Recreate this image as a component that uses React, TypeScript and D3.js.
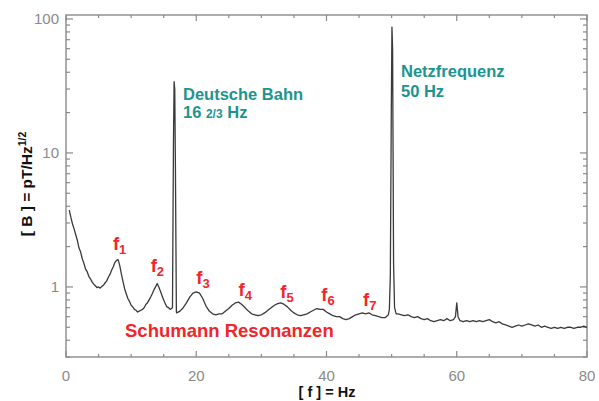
import React, { useEffect, useRef } from 'react';
import * as d3 from 'd3';

// Magnetic field spectrum [f (Hz), B (pT/Hz^1/2)]
const lowBand: [number, number][] = [
  [0.5, 3.75], [0.75, 3.3], [1.0, 2.95], [1.25, 2.7], [1.5, 2.45], [1.75, 2.22], [2.0, 1.95],
  [2.25, 1.82], [2.5, 1.62], [2.75, 1.5], [3.0, 1.36], [3.25, 1.3], [3.5, 1.2], [3.75, 1.15],
  [4.0, 1.09], [4.25, 1.05], [4.5, 1.02], [4.75, 0.99], [5.0, 1.0], [5.25, 0.98], [5.5, 1.01],
  [5.75, 1.03], [6.0, 1.07], [6.25, 1.11], [6.5, 1.18], [6.75, 1.24], [7.0, 1.33], [7.25, 1.41],
  [7.5, 1.52], [7.75, 1.58], [8.0, 1.6], [8.25, 1.45], [8.5, 1.25], [8.75, 1.1], [9.0, 0.97],
  [9.25, 0.89], [9.5, 0.82], [9.75, 0.78], [10.0, 0.73], [10.25, 0.71], [10.5, 0.68], [10.75, 0.67],
  [11.0, 0.65], [11.25, 0.66], [11.5, 0.67], [11.75, 0.68], [12.0, 0.7], [12.25, 0.74], [12.5, 0.76],
  [12.75, 0.8], [13.0, 0.84], [13.25, 0.89], [13.5, 0.95], [13.75, 1.0], [14.0, 1.06], [14.25, 1.0],
  [14.5, 0.93], [14.75, 0.86], [15.0, 0.8], [15.25, 0.75], [15.5, 0.71], [15.75, 0.7], [16.0, 0.68],
  [16.35, 0.7],
];
const bahnSpike: [number, number][] = [
  [16.5, 12], [16.6, 34], [16.7, 30], [16.8, 8], [16.95, 0.65],
];
const midBand: [number, number][] = [
  [17.0, 0.64], [17.5, 0.66], [18.0, 0.7], [18.5, 0.76], [19.0, 0.84], [19.5, 0.9], [20.0, 0.92],
  [20.5, 0.9], [21.0, 0.82], [21.5, 0.72], [22.0, 0.66], [22.5, 0.63], [23.0, 0.62], [23.5, 0.63],
  [24.0, 0.63], [24.5, 0.66], [25.0, 0.69], [25.5, 0.73], [26.0, 0.76], [26.5, 0.77], [27.0, 0.74],
  [27.5, 0.7], [28.0, 0.66], [28.5, 0.63], [29.0, 0.62], [29.5, 0.61], [30.0, 0.62], [30.5, 0.64],
  [31.0, 0.67], [31.5, 0.7], [32.0, 0.73], [32.5, 0.75], [33.0, 0.76], [33.5, 0.74], [34.0, 0.71],
  [34.5, 0.67], [35.0, 0.64], [35.5, 0.62], [36.0, 0.61], [36.5, 0.62], [37.0, 0.63], [37.5, 0.65],
  [38.0, 0.67], [38.5, 0.69], [39.0, 0.68], [39.5, 0.68], [40.0, 0.65], [40.5, 0.63], [41.0, 0.61],
  [41.5, 0.6], [42.0, 0.6], [42.5, 0.58], [43.0, 0.57], [43.5, 0.58], [44.0, 0.6], [44.5, 0.62],
  [45.0, 0.63], [45.5, 0.64], [46.0, 0.63], [46.5, 0.64], [47.0, 0.62], [47.5, 0.61], [48.0, 0.6],
  [48.5, 0.59], [49.0, 0.59], [49.5, 0.62],
];
const netzSpike: [number, number][] = [
  [49.65, 0.68], [49.8, 1.2], [49.95, 20], [50.05, 87], [50.15, 60], [50.3, 1.5], [50.45, 0.7],
];
const highBand: [number, number][] = [
  [50.7, 0.63], [51.0, 0.63], [51.5, 0.62], [52.0, 0.61], [52.5, 0.62], [53.0, 0.6], [53.5, 0.59],
  [54.0, 0.6], [54.5, 0.58], [55.0, 0.57], [55.5, 0.58], [56.0, 0.56], [56.5, 0.55], [57.0, 0.56],
  [57.5, 0.57], [58.0, 0.56], [58.5, 0.58], [59.0, 0.56], [59.5, 0.57], [59.8, 0.6], [60.0, 0.76],
  [60.2, 0.6], [60.5, 0.56], [61.0, 0.55], [61.5, 0.56], [62.0, 0.55], [62.5, 0.56], [63.0, 0.55],
  [63.5, 0.56], [64.0, 0.55], [64.5, 0.56], [65.0, 0.57], [65.5, 0.55], [66.0, 0.54], [66.5, 0.55],
  [67.0, 0.53], [67.5, 0.52], [68.0, 0.51], [68.5, 0.5], [69.0, 0.51], [69.5, 0.52], [70.0, 0.51],
  [70.5, 0.52], [71.0, 0.53], [71.5, 0.52], [72.0, 0.51], [72.5, 0.52], [73.0, 0.5], [73.5, 0.51],
  [74.0, 0.5], [74.5, 0.49], [75.0, 0.5], [75.5, 0.49], [76.0, 0.5], [76.5, 0.49], [77.0, 0.5],
  [77.5, 0.5], [78.0, 0.49], [78.5, 0.5], [79.0, 0.5], [79.5, 0.51], [80.0, 0.5],
];

const xTicks = [0, 20, 40, 60, 80];
const xMinorTicks = [5, 10, 15, 25, 30, 35, 45, 50, 55, 65, 70, 75];
const yTicks = [1, 10, 100];
const yMinorTicks = [0.3, 0.4, 0.5, 0.6, 0.7, 0.8, 0.9, 2, 3, 4, 5, 6, 7, 8, 9, 20, 30, 40, 50, 60, 70, 80, 90];

// Schumann resonance labels: [index, f position, baseline value]
const resonanceLabels: [string, number, number][] = [
  ['1', 7.2, 1.9], ['2', 13.0, 1.3], ['3', 20.0, 1.05], ['4', 26.5, 0.86],
  ['5', 32.9, 0.82], ['6', 39.2, 0.78], ['7', 45.6, 0.72],
];

const W = 599, H = 401;
const LEFT = 66, RIGHT = 587, TOP = 15, BOTTOM = 357;
const AXIS_COLOR = '#8a8a8a';
const TEAL = '#1c9490';
const RED = '#f0262a';
const FONT = '"Liberation Sans", Arial, Helvetica, sans-serif';

export default function App() {
  const ref = useRef<SVGSVGElement>(null);

  useEffect(() => {
    const svg = d3.select(ref.current);
    svg.selectAll('*').remove();

    const x = d3.scaleLinear().domain([0, 80]).range([LEFT, RIGHT]);
    const y = d3.scaleLog().domain([0.3, 107]).range([BOTTOM, TOP]);

    const g = svg.append('g');

    // frame
    g.append('rect')
      .attr('x', LEFT).attr('y', TOP)
      .attr('width', RIGHT - LEFT).attr('height', BOTTOM - TOP)
      .attr('fill', 'none').attr('stroke', AXIS_COLOR).attr('stroke-width', 1.4);

    // inward ticks on all four sides
    const tick = (x1: number, y1: number, x2: number, y2: number) =>
      g.append('line').attr('x1', x1).attr('y1', y1).attr('x2', x2).attr('y2', y2)
        .attr('stroke', AXIS_COLOR).attr('stroke-width', 1.2);

    xTicks.forEach((v) => { tick(x(v), BOTTOM, x(v), BOTTOM - 6); tick(x(v), TOP, x(v), TOP + 6); });
    xMinorTicks.forEach((v) => { tick(x(v), BOTTOM, x(v), BOTTOM - 3); tick(x(v), TOP, x(v), TOP + 3); });
    yTicks.forEach((v) => { tick(LEFT, y(v), LEFT + 7, y(v)); tick(RIGHT, y(v), RIGHT - 7, y(v)); });
    yMinorTicks.forEach((v) => { tick(LEFT, y(v), LEFT + 4, y(v)); tick(RIGHT, y(v), RIGHT - 4, y(v)); });

    // tick labels
    g.selectAll('text.xl').data(xTicks).enter().append('text')
      .attr('x', (d) => x(d)).attr('y', 381)
      .attr('text-anchor', 'middle')
      .attr('font-family', FONT).attr('font-size', 15).attr('fill', AXIS_COLOR)
      .text((d) => d);
    g.selectAll('text.yl').data(yTicks).enter().append('text')
      .attr('x', 59).attr('y', (d) => y(d)).attr('dy', '0.36em')
      .attr('text-anchor', 'end')
      .attr('font-family', FONT).attr('font-size', 15).attr('fill', AXIS_COLOR)
      .text((d) => d);

    // axis titles
    g.append('text')
      .attr('x', 327).attr('y', 397).attr('text-anchor', 'middle')
      .attr('font-family', FONT).attr('font-size', 14.5).attr('font-weight', 'bold').attr('fill', '#111')
      .text('[ f ] = Hz');
    const yt = g.append('text')
      .attr('transform', 'translate(32,184) rotate(-90)')
      .attr('text-anchor', 'middle')
      .attr('font-family', FONT).attr('font-size', 15.5).attr('font-weight', 'bold').attr('fill', '#111');
    yt.append('tspan').text('[ B ] = pT/Hz');
    yt.append('tspan').attr('font-size', 10.5).attr('dy', -6).text('1/2');

    // spectrum
    const spectrum = [...lowBand, ...bahnSpike, ...midBand, ...netzSpike, ...highBand];
    const line = d3.line<[number, number]>().x((d) => x(d[0])).y((d) => y(d[1]));
    g.append('path')
      .attr('d', line(spectrum))
      .attr('fill', 'none').attr('stroke', '#3a3a3a').attr('stroke-width', 1.3)
      .attr('stroke-linejoin', 'round');

    // annotations
    const teal = (tx: number, ty: number) => g.append('text')
      .attr('x', tx).attr('y', ty)
      .attr('font-family', FONT).attr('font-size', 16.5).attr('font-weight', 'bold').attr('fill', TEAL);
    teal(183, 100).text('Deutsche Bahn');
    const db = teal(183, 118);
    db.append('tspan').text('16 ');
    db.append('tspan').attr('font-size', 12).text('2/3');
    db.append('tspan').text(' Hz');
    teal(401, 77).text('Netzfrequenz');
    teal(401, 97).text('50 Hz');

    resonanceLabels.forEach(([n, f, v]) => {
      const t = g.append('text')
        .attr('x', x(f)).attr('y', y(v))
        .attr('font-family', FONT).attr('font-size', 18.5).attr('font-weight', 'bold').attr('fill', RED);
      t.append('tspan').text('f');
      t.append('tspan').attr('font-size', 13).attr('dy', 4).text(n);
    });

    g.append('text')
      .attr('x', 125).attr('y', 337)
      .attr('font-family', FONT).attr('font-size', 18.5).attr('font-weight', 'bold').attr('fill', RED)
      .text('Schumann Resonanzen');
  }, []);

  return (
    <svg ref={ref} width={W} height={H}
      style={{ position: 'absolute', left: 0, top: 0, background: '#fff' }} />
  );
}
